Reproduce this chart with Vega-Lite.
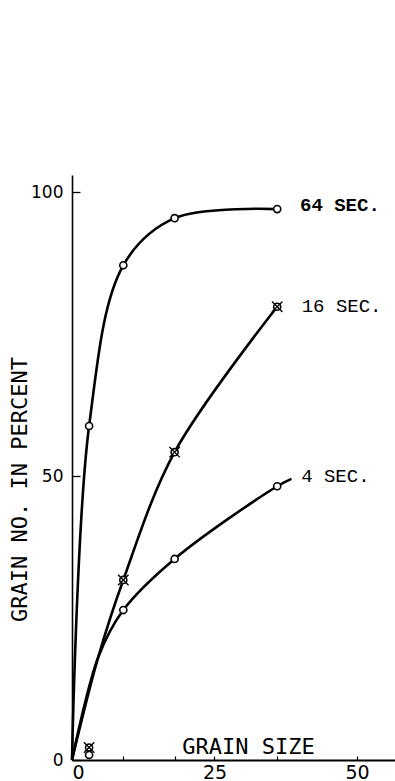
{
  "$schema": "https://vega.github.io/schema/vega-lite/v6.json",
  "width": 323,
  "height": 585,
  "autosize": {"type": "none"},
  "padding": {"left": 72, "top": 175, "right": 0, "bottom": 21},
  "background": "white",
  "config": {
    "view": {"stroke": null},
    "axis": {
      "grid": false,
      "domainColor": "black",
      "tickColor": "black",
      "labelColor": "black",
      "titleColor": "black",
      "labelFont": "DejaVu Sans",
      "titleFont": "DejaVu Sans Mono",
      "titleFontWeight": "normal",
      "labelOverlap": false
    }
  },
  "datasets": {
    "lines": [
      {"series": "64", "x": 0, "y": 0},
      {"series": "64", "x": 3, "y": 58.8},
      {"series": "64", "x": 9, "y": 87.1},
      {"series": "64", "x": 18, "y": 95.4},
      {"series": "64", "x": 36, "y": 97.0},
      {"series": "16", "x": 0, "y": 0},
      {"series": "16", "x": 4.6, "y": 18.1},
      {"series": "16", "x": 9, "y": 31.7},
      {"series": "16", "x": 18, "y": 54.2},
      {"series": "16", "x": 36, "y": 79.8},
      {"series": "4", "x": 0, "y": 0},
      {"series": "4", "x": 4.6, "y": 18.1},
      {"series": "4", "x": 9, "y": 26.4},
      {"series": "4", "x": 18, "y": 35.4},
      {"series": "4", "x": 36, "y": 48.2},
      {"series": "4", "x": 38.5, "y": 49.5}
    ],
    "points": [
      {"series": "64", "x": 3, "y": 58.8},
      {"series": "64", "x": 9, "y": 87.1},
      {"series": "64", "x": 18, "y": 95.4},
      {"series": "64", "x": 36, "y": 97.0},
      {"series": "16", "x": 3, "y": 2.2},
      {"series": "16", "x": 9, "y": 31.7},
      {"series": "16", "x": 18, "y": 54.2},
      {"series": "16", "x": 36, "y": 79.8},
      {"series": "4", "x": 3, "y": 0.9},
      {"series": "4", "x": 9, "y": 26.4},
      {"series": "4", "x": 18, "y": 35.4},
      {"series": "4", "x": 36, "y": 48.2}
    ],
    "labels": [
      {"series": "64", "x": 40, "y": 97.7, "text": "64 SEC."},
      {"series": "16", "x": 40.3, "y": 79.9, "text": "16 SEC."},
      {"series": "4", "x": 40.2, "y": 50.0, "text": "4 SEC."}
    ]
  },
  "layer": [
    {
      "data": {"name": "lines"},
      "mark": {"type": "line", "interpolate": "catmull-rom", "strokeWidth": 2.6, "color": "black"},
      "encoding": {
        "x": {
          "field": "x", "type": "quantitative",
          "scale": {"domain": [0, 56.67], "nice": false, "zero": true},
          "axis": {
            "values": [0, 9, 18, 25, 36, 50],
            "labelExpr": "datum.value == 0 || datum.value == 25 || datum.value == 50 ? datum.label : ''",
            "tickSize": -4,
            "tickWidth": 1.2,
            "domainWidth": 2,
            "labelFontSize": 19,
            "labelPadding": 7,
            "title": "GRAIN SIZE",
            "titleFontSize": 22,
            "titleX": 176,
            "titleY": -7,
            "titleBaseline": "alphabetic",
            "titleAlign": "center"
          }
        },
        "y": {
          "field": "y", "type": "quantitative",
          "scale": {"domain": [0, 103], "nice": false},
          "axis": {
            "values": [0, 50, 100],
            "tickSize": -8,
            "tickWidth": 1.3,
            "domainWidth": 1.6,
            "labelFontSize": 17,
            "labelPadding": 17,
            "title": "GRAIN NO. IN PERCENT",
            "titleFontSize": 22,
            "titleX": -53,
            "titleY": 314,
            "titleAngle": 270,
            "titleBaseline": "middle",
            "titleAlign": "center"
          }
        },
        "detail": {"field": "series"}
      }
    },
    {
      "data": {"name": "points"},
      "mark": {"type": "point", "shape": "circle", "size": 50, "filled": true, "fill": "white", "stroke": "black", "strokeWidth": 1.6, "opacity": 1},
      "encoding": {
        "x": {"field": "x", "type": "quantitative"},
        "y": {"field": "y", "type": "quantitative"}
      }
    },
    {
      "data": {"name": "points"},
      "transform": [{"filter": "datum.series == '16'"}],
      "mark": {"type": "point", "shape": "M-1,-1L1,1M-1,1L1,-1", "size": 110, "filled": false, "stroke": "black", "strokeWidth": 1.3, "opacity": 1},
      "encoding": {
        "x": {"field": "x", "type": "quantitative"},
        "y": {"field": "y", "type": "quantitative"}
      }
    },
    {
      "data": {"name": "labels"},
      "transform": [{"filter": "datum.series == '64'"}],
      "mark": {"type": "text", "align": "left", "baseline": "middle", "font": "Liberation Mono", "fontSize": 19, "fontWeight": "bold", "color": "black"},
      "encoding": {
        "x": {"field": "x", "type": "quantitative"},
        "y": {"field": "y", "type": "quantitative"},
        "text": {"field": "text"}
      }
    },
    {
      "data": {"name": "labels"},
      "transform": [{"filter": "datum.series != '64'"}],
      "mark": {"type": "text", "align": "left", "baseline": "middle", "font": "Liberation Mono", "fontSize": 19, "color": "black"},
      "encoding": {
        "x": {"field": "x", "type": "quantitative"},
        "y": {"field": "y", "type": "quantitative"},
        "text": {"field": "text"}
      }
    }
  ]
}
